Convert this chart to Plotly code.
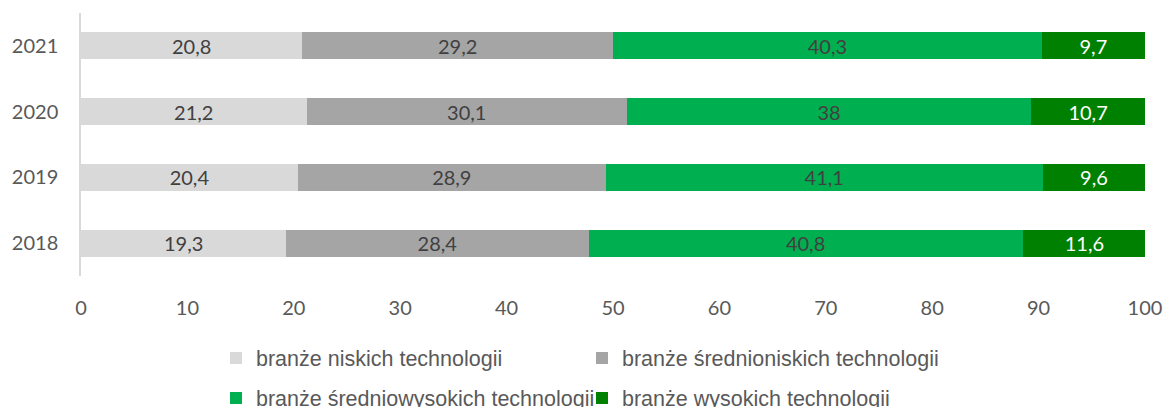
import plotly.graph_objects as go

years = ["2018", "2019", "2020", "2021"]
series_names = [
    "branże niskich technologii",
    "branże średnioniskich technologii",
    "branże średniowysokich technologii",
    "branże wysokich technologii",
]
low = [19.3, 20.4, 21.2, 20.8]
med_low = [28.4, 28.9, 30.1, 29.2]
med_high = [40.8, 41.1, 38.0, 40.3]
high = [11.6, 9.6, 10.7, 9.7]
x_ticks = [0, 10, 20, 30, 40, 50, 60, 70, 80, 90, 100]

colors = ["#D9D9D9", "#A5A5A5", "#00B050", "#008000"]
label_colors = ["#404040", "#404040", "#404040", "#FFFFFF"]
legend_ids = ["legend", "legend2", "legend3", "legend4"]


def fmt(v):
    s = ("%g" % v)
    return s.replace(".", ",")


fig = go.Figure()
for name, vals, col, lc, lg in zip(series_names, [low, med_low, med_high, high], colors, label_colors, legend_ids):
    fig.add_trace(go.Bar(
        y=years, x=vals, name=name, orientation="h",
        marker=dict(color=col, line=dict(width=0)),
        text=[fmt(v) for v in vals], textposition="inside",
        insidetextanchor="middle", textangle=0, constraintext="none",
        textfont=dict(family="Lato", size=20, color=lc),
        legend=lg, hoverinfo="skip",
    ))

W, H = 1165, 407
legend_font = dict(family="Liberation Sans", size=21.5, color="#595959")
# legend anchor positions (container pixels)
leg_pos = {"legend": (216, 358), "legend2": (582, 358), "legend3": (216, 398), "legend4": (582, 398)}

layout_legends = {}
for lg, (px, py) in leg_pos.items():
    layout_legends[lg] = dict(
        orientation="h", xref="container", yref="container",
        x=px / W, xanchor="left", y=1 - py / H, yanchor="middle",
        font=legend_font, bgcolor="rgba(0,0,0,0)",
    )

fig.update_layout(
    barmode="stack",
    bargap=0.59,
    width=W, height=H,
    margin=dict(l=81, r=20, t=13, b=131, autoexpand=False),
    plot_bgcolor="white", paper_bgcolor="white",
    font=dict(family="Lato", size=20, color="#595959"),
    showlegend=True,
    xaxis=dict(
        range=[0, 100], tickvals=x_ticks, ticktext=[str(t) for t in x_ticks],
        showgrid=False, zeroline=False, showline=False,
        ticks="", ticklabelstandoff=18, automargin=False,
        tickfont=dict(family="Lato", size=20, color="#595959"),
        fixedrange=True,
    ),
    yaxis=dict(
        categoryorder="array", categoryarray=years,
        showgrid=False, zeroline=False,
        showline=True, linecolor="#D9D9D9", linewidth=1.5,
        ticks="", ticklabelstandoff=17, automargin=False,
        tickfont=dict(family="Lato", size=20, color="#595959"),
        fixedrange=True,
    ),
    **layout_legends,
)

fig.write_html(
    "out.html",
    config={"displayModeBar": False},
    post_script="document.body.style.margin='0';",
)
